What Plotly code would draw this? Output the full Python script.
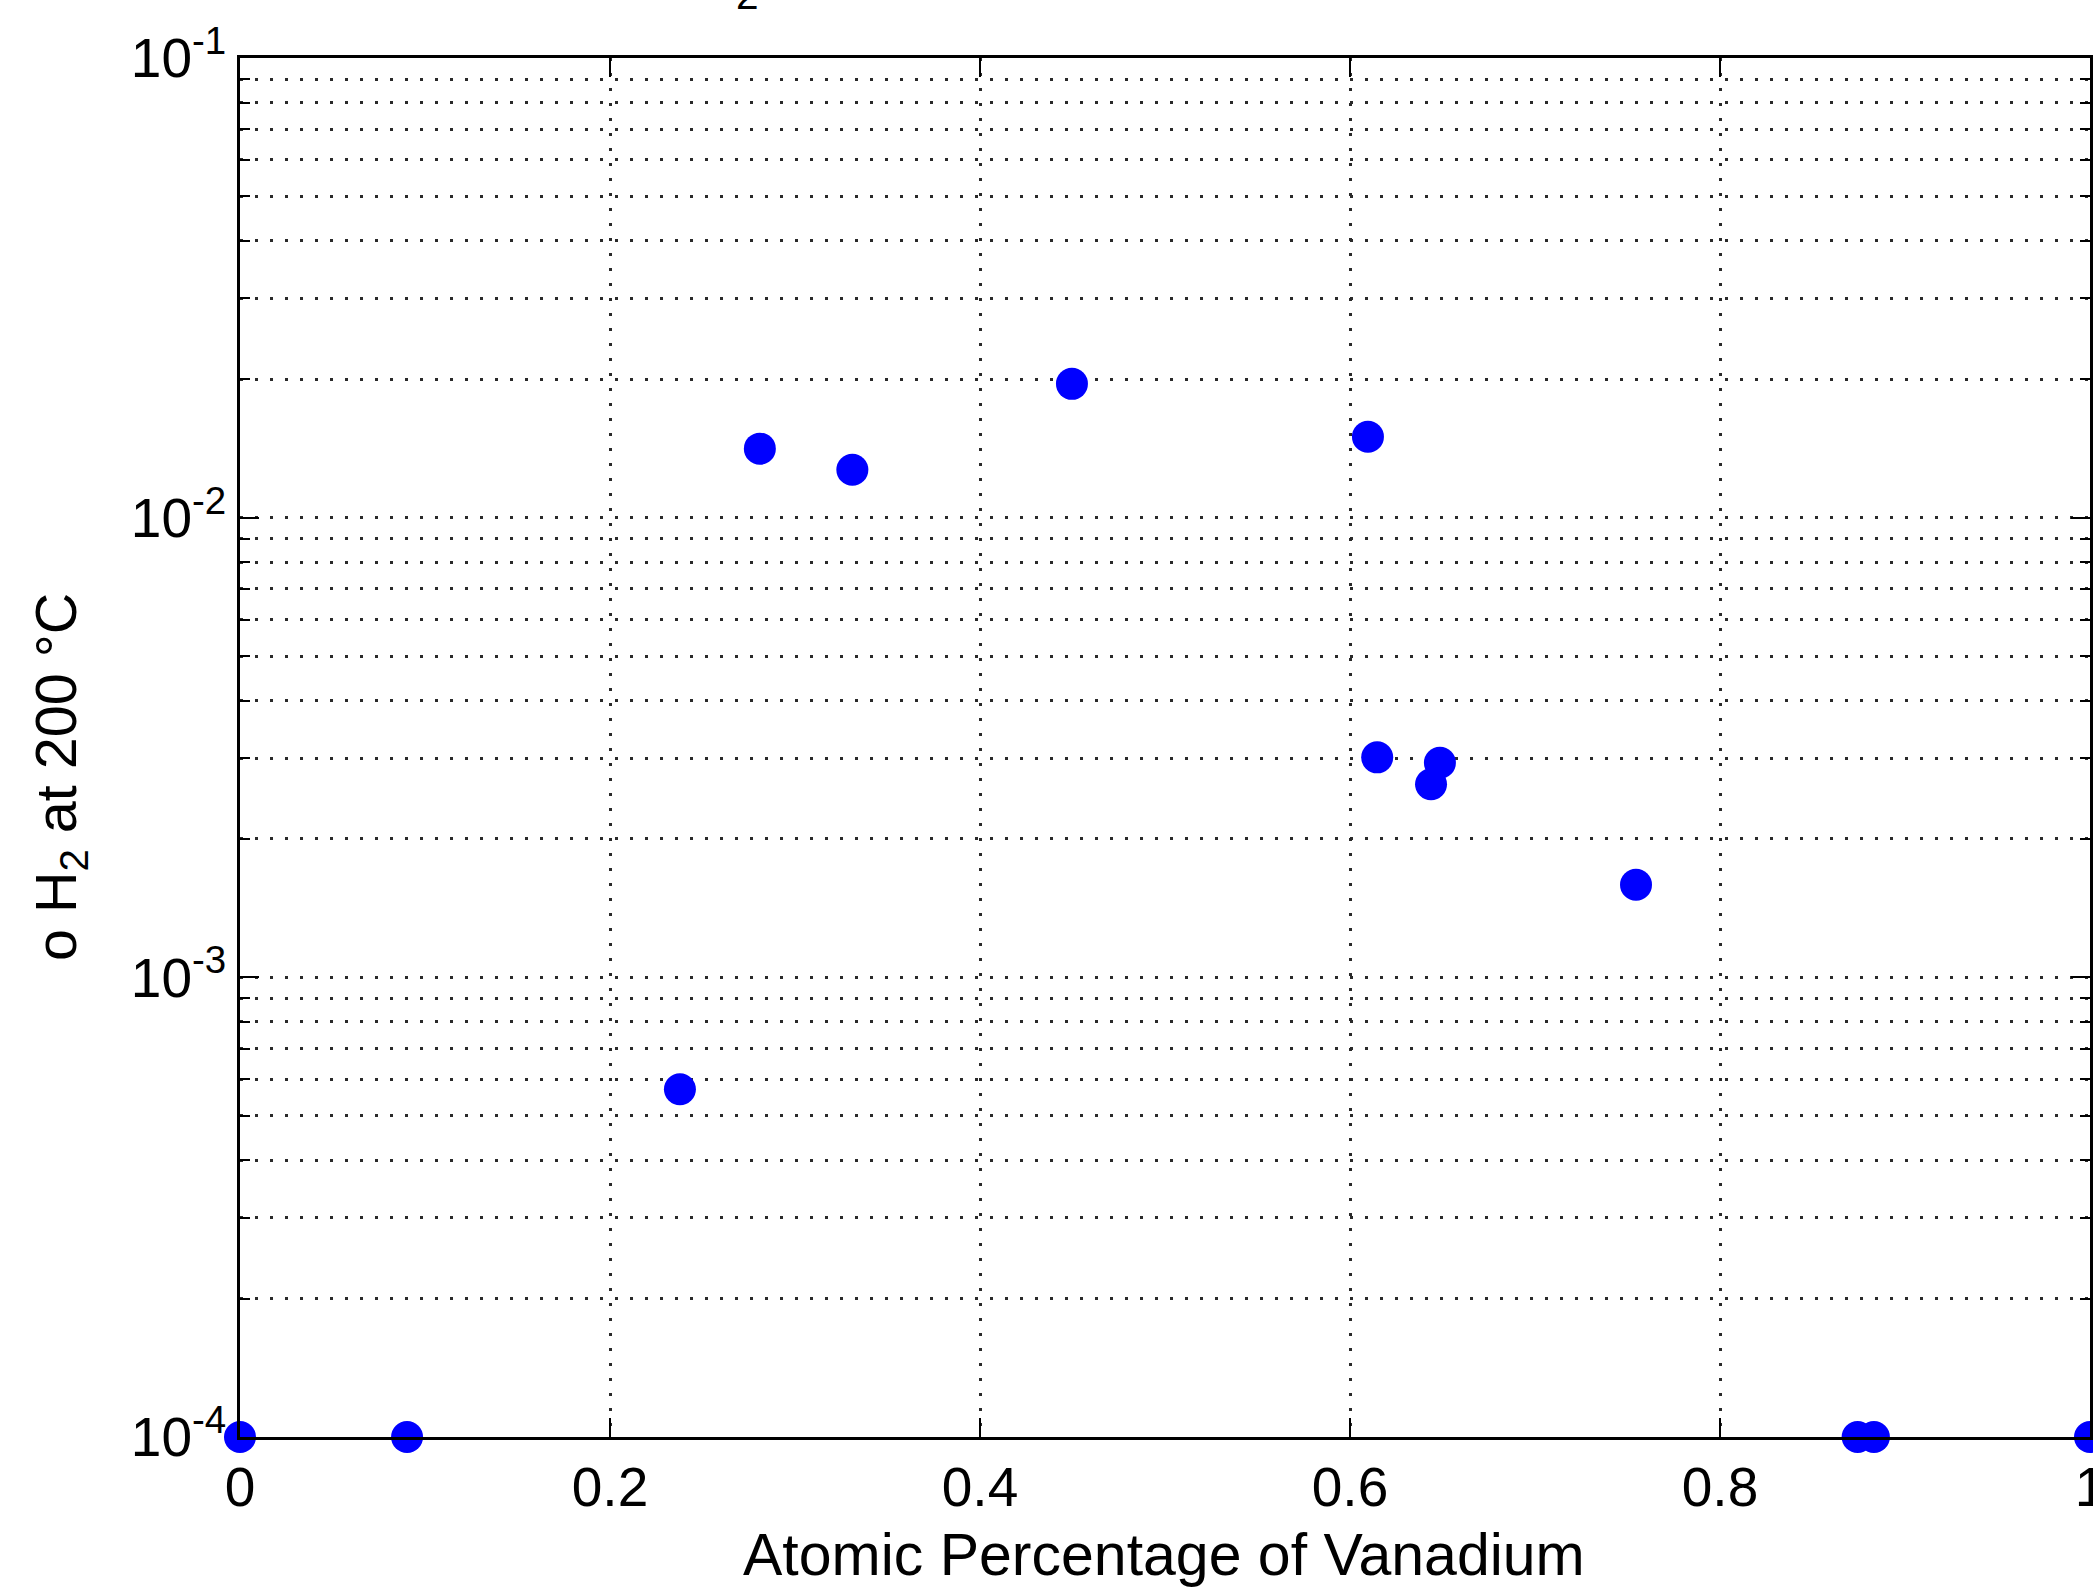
import plotly.graph_objects as go

# Vanadium fraction and H2 value at 200 °C for each sample
vanadium_fraction = [0.0, 0.0903, 0.2378, 0.281, 0.331, 0.4497, 0.6097, 0.6147,
                     0.6438, 0.6486, 0.7546, 0.8744, 0.8832, 1.0]
h2_value = [1e-4, 1e-4, 5.71e-4, 1.413e-2, 1.271e-2, 1.955e-2, 1.50e-2, 3.01e-3,
            2.63e-3, 2.93e-3, 1.59e-3, 1e-4, 1e-4, 1e-4]

x_ticks = [0, 0.2, 0.4, 0.6, 0.8, 1.0]
x_tick_labels = ["0", "0.2", "0.4", "0.6", "0.8", "1"]
y_ticks = [1e-4, 1e-3, 1e-2, 1e-1]
y_tick_labels = ["10<sup>-4</sup>", "10<sup>-3</sup>", "10<sup>-2</sup>", "10<sup>-1</sup>"]
y_minor = [m * 10.0 ** e for e in (-4, -3, -2) for m in range(2, 10)]

FONT = "Liberation Sans, Arial, Helvetica, sans-serif"
GRID = dict(showgrid=True, gridcolor="#2a2a2a", gridwidth=2.6, griddash="3px,12px")

fig = go.Figure(
    go.Scatter(
        x=vanadium_fraction,
        y=h2_value,
        mode="markers",
        marker=dict(color="#0000ff", size=32, line=dict(width=0)),
        cliponaxis=False,
        showlegend=False,
    )
)

fig.update_xaxes(
    range=[0, 1],
    tickvals=x_ticks,
    ticktext=x_tick_labels,
    ticks="inside",
    ticklen=19,
    tickwidth=2,
    tickcolor="black",
    showline=True,
    linecolor="black",
    linewidth=2.5,
    mirror="allticks",
    zeroline=False,
    layer="above traces",
    automargin=False,
    ticklabeloverflow="allow",
    ticklabelstandoff=0,
    tickfont=dict(family=FONT, size=55, color="black"),
    **GRID,
)

fig.update_yaxes(
    type="log",
    range=[-4, -1],
    tickvals=y_ticks,
    ticktext=y_tick_labels,
    ticks="inside",
    ticklen=19,
    tickwidth=2,
    tickcolor="black",
    showline=True,
    linecolor="black",
    linewidth=2.5,
    mirror="allticks",
    zeroline=False,
    layer="above traces",
    automargin=False,
    ticklabeloverflow="allow",
    tickfont=dict(family=FONT, size=55, color="black"),
    minor=dict(tickvals=y_minor, ticks="inside", ticklen=10, tickwidth=2,
               tickcolor="black", **GRID),
    **GRID,
)

fig.update_layout(
    width=2093,
    height=1588,
    margin=dict(l=240, r=3, t=58, b=151, autoexpand=False),
    paper_bgcolor="white",
    plot_bgcolor="white",
    font=dict(family=FONT, color="black"),
    annotations=[
        dict(text="Atomic Percentage of Vanadium", xref="paper", yref="paper",
             x=0.4995, y=-0.0856, xanchor="center", yanchor="middle",
             showarrow=False, font=dict(family=FONT, size=59, color="black")),
        dict(text="o H<sub>2</sub> at 200 °C", xref="paper", yref="paper",
             x=-0.0973, y=0.4786, xanchor="center", yanchor="middle", textangle=-90,
             showarrow=False, font=dict(family=FONT, size=57.5, color="black")),
        dict(text="H<sub>2</sub>", xref="paper", yref="paper",
             x=(726 - 240) / 1850, y=(1437 - 20) / 1379, xanchor="center", yanchor="bottom",
             showarrow=False, font=dict(family=FONT, size=58, color="black")),
    ],
)

fig.write_html("out.html")
